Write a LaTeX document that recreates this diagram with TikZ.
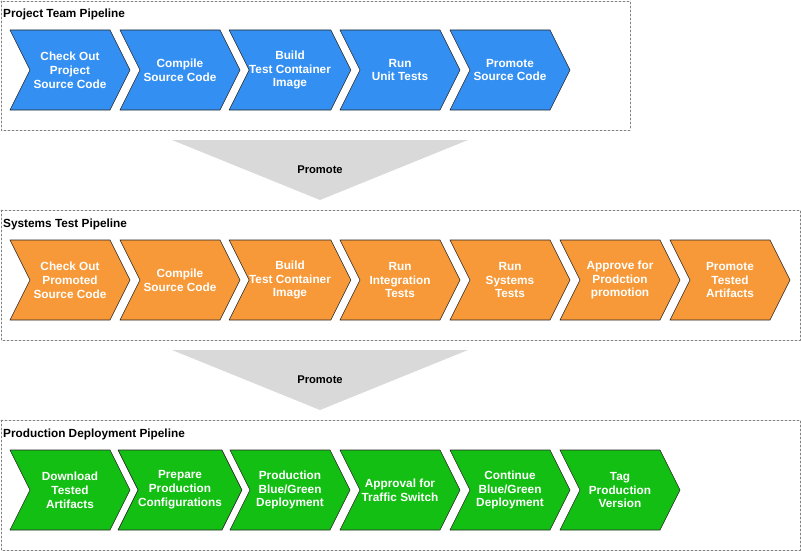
\documentclass[tikz,border=0pt]{standalone}
\usepackage{fontspec}
\setmainfont{Liberation Sans}
\usepackage{tikz}
\usetikzlibrary{shapes.symbols}
\definecolor{stageblue}{rgb}{0.20,0.56,0.95}
\definecolor{stageorange}{rgb}{0.97,0.60,0.22}
\definecolor{stagegreen}{rgb}{0.07,0.75,0.07}
\definecolor{promotegray}{rgb}{0.85,0.85,0.85}
\tikzstyle{every node}=[font=\fontsize{11.8}{13.9}\selectfont\bfseries]
\begin{document}
\begin{tikzpicture}[line cap=round,line join=round,x=1pt,y=-1pt,
    stage/.style={signal,signal to=east,signal from=west,signal pointer angle=126.87,
        minimum width=120pt,minimum height=80pt,inner sep=0pt,outer sep=0pt,
        draw=black!85,line width=0.6pt,text=white,align=center},
    lane/.style={draw=gray,line width=0.6pt,dash pattern=on 2pt off 2pt},
    lanetitle/.style={anchor=west,inner sep=0pt},
    promote/.style={fill=promotegray},
    promotetext/.style={font=\fontsize{11.2}{13}\selectfont\bfseries}]
    \useasboundingbox (0,0) rectangle (801,551);
    % lanes
    \draw [lane] (1,1) rectangle (630,130);
    \draw [lane] (1,210) rectangle (800,340);
    \draw [lane] (1,420) rectangle (800,550);
    \node [lanetitle] (t1) at (3,14) {Project Team Pipeline};
    \node [lanetitle] (t2) at (3,224) {Systems Test Pipeline};
    \node [lanetitle] (t3) at (3,434) {Production Deployment Pipeline};
    % project team
    \node [stage,fill=stageblue] (p1) at (70,70) {Check Out\\Project\\Source Code};
    \node [stage,fill=stageblue] (p2) at (180,70) {Compile\\Source Code};
    \node [stage,fill=stageblue] (p3) at (290,70) {Build\\Test Container\\Image};
    \node [stage,fill=stageblue] (p4) at (400,70) {Run\\Unit Tests};
    \node [stage,fill=stageblue] (p5) at (510,70) {Promote\\Source Code};
    % promote
    \fill [promote] (172,140) -- (468,140) -- (320,200) -- cycle;
    \node [promotetext] (m1) at (320,170) {Promote};
    % systems test
    \node [stage,fill=stageorange] (s1) at (70,280) {Check Out\\Promoted\\Source Code};
    \node [stage,fill=stageorange] (s2) at (180,280) {Compile\\Source Code};
    \node [stage,fill=stageorange] (s3) at (290,280) {Build\\Test Container\\Image};
    \node [stage,fill=stageorange] (s4) at (400,280) {Run\\Integration\\Tests};
    \node [stage,fill=stageorange] (s5) at (510,280) {Run\\Systems\\Tests};
    \node [stage,fill=stageorange] (s6) at (620,280) {Approve for\\Prodction\\promotion};
    \node [stage,fill=stageorange] (s7) at (730,280) {Promote\\Tested\\Artifacts};
    % promote
    \fill [promote] (172,350) -- (468,350) -- (320,410) -- cycle;
    \node [promotetext] (m2) at (320,380) {Promote};
    % production
    \node [stage,fill=stagegreen] (d1) at (70,490) {Download\\Tested\\Artifacts};
    \node [stage,fill=stagegreen] (d2) at (180,490) {Prepare\\Production\\Configurations};
    \node [stage,fill=stagegreen] (d3) at (290,490) {Production\\Blue/Green\\Deployment};
    \node [stage,fill=stagegreen] (d4) at (400,490) {Approval for\\Traffic Switch};
    \node [stage,fill=stagegreen] (d5) at (510,490) {Continue\\Blue/Green\\Deployment};
    \node [stage,fill=stagegreen] (d6) at (620,490) {Tag\\Production\\Version};
\end{tikzpicture}
\end{document}
